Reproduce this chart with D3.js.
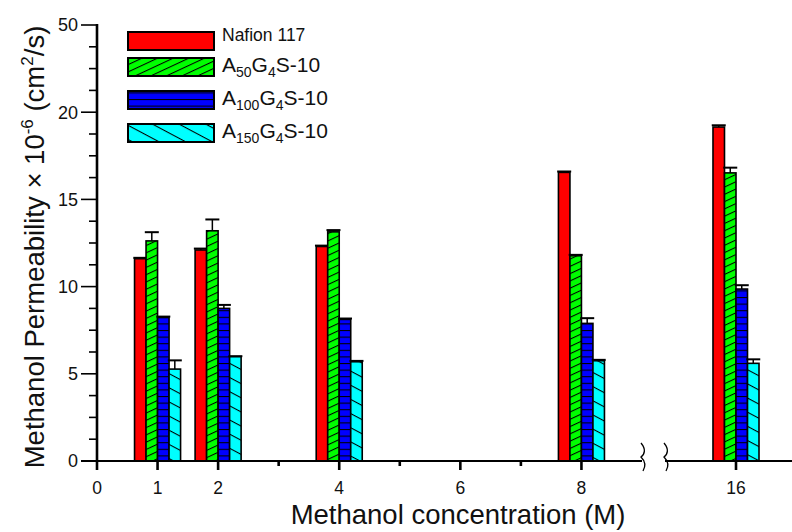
<!DOCTYPE html>
<html><head><meta charset="utf-8">
<script src="https://cdn.jsdelivr.net/npm/d3@7"></script>
<style>
html,body{margin:0;padding:0;background:#fff;}
svg{display:block;font-family:"Liberation Sans",Arial,sans-serif;}
</style></head>
<body>
<svg id="chart" width="792" height="532"></svg>
<script>
// ---- data ----
const concentrations = [1, 2, 4, 8, 16];
const seriesNames = ["Nafion 117", "A50G4S-10", "A100G4S-10", "A150G4S-10"];
const nafion   = [11.60, 12.10, 12.30, 16.55, 19.15];
const nafionErr= [0.05, 0.08, 0.05, 0.05, 0.10];
const a50      = [12.62, 13.20, 13.14, 11.77, 16.52];
const a50Err   = [0.50, 0.65, 0.10, 0.05, 0.30];
const a100     = [8.23, 8.75, 8.12, 7.89, 9.86];
const a100Err  = [0.05, 0.20, 0.05, 0.30, 0.22];
const a150     = [5.27, 5.98, 5.69, 5.75, 5.60];
const a150Err  = [0.50, 0.03, 0.05, 0.05, 0.23];
const yTickValues = [0, 5, 10, 15, 20, 25];
const yTickLabels = ["0", "5", "10", "15", "20", "50"];
const xTickValues = [0, 1, 2, 4, 6, 8, 16];
const xTickLabels = ["0", "1", "2", "4", "6", "8", "16"];
const xMinorTicks = [3, 5, 7];

const values = [nafion, a50, a100, a150];
const errors = [nafionErr, a50Err, a100Err, a150Err];
const fills = ["#ff0000", "#00ff00", "#0000ff", "#00ffff"];
const patIds = ["solidRed", "hatchGreen", "hatchBlue", "hatchCyan"];

const svg = d3.select("#chart");

// ---- scales ----
const y = d3.scaleLinear().domain([0, 25]).range([461, 25]);
const x = d3.scaleLinear().domain([0, 9, 15, 16]).range([97, 642, 665, 736]);
const barW = (x(1) - x(0)) * 0.19;

// ---- patterns ----
const defs = svg.append("defs");
function linePattern(id, color, spacing, angle) {
  const p = defs.append("pattern").attr("id", id)
    .attr("patternUnits", "userSpaceOnUse")
    .attr("width", 20).attr("height", spacing)
    .attr("patternTransform", `rotate(${angle})`);
  p.append("rect").attr("width", 20).attr("height", spacing).attr("fill", color);
  p.append("line").attr("x1", 0).attr("x2", 20).attr("y1", 0.5).attr("y2", 0.5)
    .attr("stroke", "#000").attr("stroke-width", 1.1);
}
defs.append("pattern").attr("id", "solidRed").attr("patternUnits", "userSpaceOnUse")
  .attr("width", 10).attr("height", 10)
  .append("rect").attr("width", 10).attr("height", 10).attr("fill", fills[0]);
linePattern("hatchGreen", fills[1], 6.6, -25);
linePattern("hatchBlue", fills[2], 6.6, 0);
linePattern("hatchCyan", fills[3], 12.5, 28);

// ---- bars ----
const g = svg.append("g");
values.forEach((vals, si) => {
  concentrations.forEach((c, ci) => {
    const cx = x(c) + (si - 1.5) * barW;
    const v = vals[ci], e = errors[si][ci];
    g.append("line").attr("x1", cx).attr("x2", cx)
      .attr("y1", y(v)).attr("y2", y(v + e))
      .attr("stroke", "#000").attr("stroke-width", 1.5);
    g.append("line").attr("x1", cx - 7).attr("x2", cx + 7)
      .attr("y1", y(v + e)).attr("y2", y(v + e))
      .attr("stroke", "#000").attr("stroke-width", 2);
    g.append("rect")
      .attr("x", cx - barW / 2).attr("y", y(v))
      .attr("width", barW).attr("height", y(0) - y(v))
      .attr("fill", `url(#${patIds[si]})`)
      .attr("stroke", "#000").attr("stroke-width", 1.6);
  });
});

// ---- y axis ----
const ax = svg.append("g").attr("stroke", "#000");
ax.append("line").attr("x1", x(0)).attr("x2", x(0)).attr("y1", y(25) - 1).attr("y2", 470)
  .attr("stroke-width", 2.6);
const yMinor = d3.range(0, 25.01, 1.25).filter(v => !yTickValues.includes(v));
ax.selectAll(".ymin").data(yMinor).join("line")
  .attr("x1", x(0) - 8).attr("x2", x(0)).attr("y1", d => y(d)).attr("y2", d => y(d))
  .attr("stroke-width", 1.6);
ax.selectAll(".ymaj").data(yTickValues).join("line")
  .attr("x1", x(0) - 16).attr("x2", x(0)).attr("y1", d => y(d)).attr("y2", d => y(d))
  .attr("stroke-width", 1.6);
svg.selectAll(".ylab").data(yTickValues).join("text")
  .attr("x", 78).attr("y", d => y(d)).attr("dy", "0.36em")
  .attr("text-anchor", "end").attr("font-size", 18).attr("fill", "#111")
  .text((d, i) => yTickLabels[i]);

// ---- x axis ----
const breakL = x(9), breakR = x(15);
ax.append("line").attr("x1", 81).attr("x2", breakL).attr("y1", y(0)).attr("y2", y(0)).attr("stroke-width", 2.2);
ax.append("line").attr("x1", breakR).attr("x2", 792).attr("y1", y(0)).attr("y2", y(0)).attr("stroke-width", 2.2);
ax.selectAll(".xmaj").data(xTickValues.filter(d => d > 0)).join("line")
  .attr("x1", d => x(d)).attr("x2", d => x(d)).attr("y1", y(0)).attr("y2", y(0) + 9)
  .attr("stroke-width", 2.6);
ax.selectAll(".xmin").data(xMinorTicks).join("line")
  .attr("x1", d => x(d)).attr("x2", d => x(d)).attr("y1", y(0)).attr("y2", y(0) + 5)
  .attr("stroke-width", 2.6);
svg.selectAll(".xlab").data(xTickValues).join("text")
  .attr("x", d => x(d)).attr("y", 494)
  .attr("text-anchor", "middle").attr("font-size", 17.5).attr("fill", "#111")
  .text((d, i) => xTickLabels[i]);

// break marks
[breakL, breakR].forEach(bx => {
  svg.append("path")
    .attr("d", `M${bx - 1},443 C${bx + 4},449 ${bx + 3},454 ${bx - 1},457 C${bx + 3},461 ${bx + 4},466 ${bx + 1},471`)
    .attr("fill", "none").attr("stroke", "#000").attr("stroke-width", 1.3);
});

// ---- axis titles ----
svg.append("text").attr("x", 458).attr("y", 524).attr("text-anchor", "middle")
  .attr("font-size", 27.5).attr("fill", "#111").text("Methanol concentration (M)");
const yt = svg.append("text")
  .attr("transform", "translate(44,247) rotate(-90)")
  .attr("text-anchor", "middle").attr("font-size", 27.5).attr("fill", "#111");
yt.append("tspan").text("Methanol Permeability \u00d7 10");
yt.append("tspan").attr("font-size", 17).attr("dy", -11).text("-6");
yt.append("tspan").attr("dy", 11).text(" (cm");
yt.append("tspan").attr("font-size", 17).attr("dy", -11).text("2");
yt.append("tspan").attr("dy", 11).text("/s)");

// ---- legend ----
const legY = [32, 58, 91, 124];
const lg = svg.append("g");
seriesNames.forEach((name, i) => {
  lg.append("rect").attr("x", 128).attr("y", legY[i]).attr("width", 86).attr("height", 18)
    .attr("fill", `url(#${patIds[i]})`).attr("stroke", "#000").attr("stroke-width", 2);
  const t = lg.append("text").attr("x", 222).attr("y", legY[i] + 14).attr("fill", "#111");
  if (i === 0) {
    t.attr("y", legY[i] + 9).attr("font-size", 17.5).text(name);
  } else {
    const m = name.match(/^A(\d+)G(\d+)(S-10)$/);
    t.attr("font-size", 21);
    t.append("tspan").text("A");
    t.append("tspan").attr("font-size", 14).attr("dy", 5).text(m[1]);
    t.append("tspan").attr("dy", -5).text("G");
    t.append("tspan").attr("font-size", 14).attr("dy", 5).text(m[2]);
    t.append("tspan").attr("dy", -5).text(m[3]);
  }
});
</script>
</body></html>
